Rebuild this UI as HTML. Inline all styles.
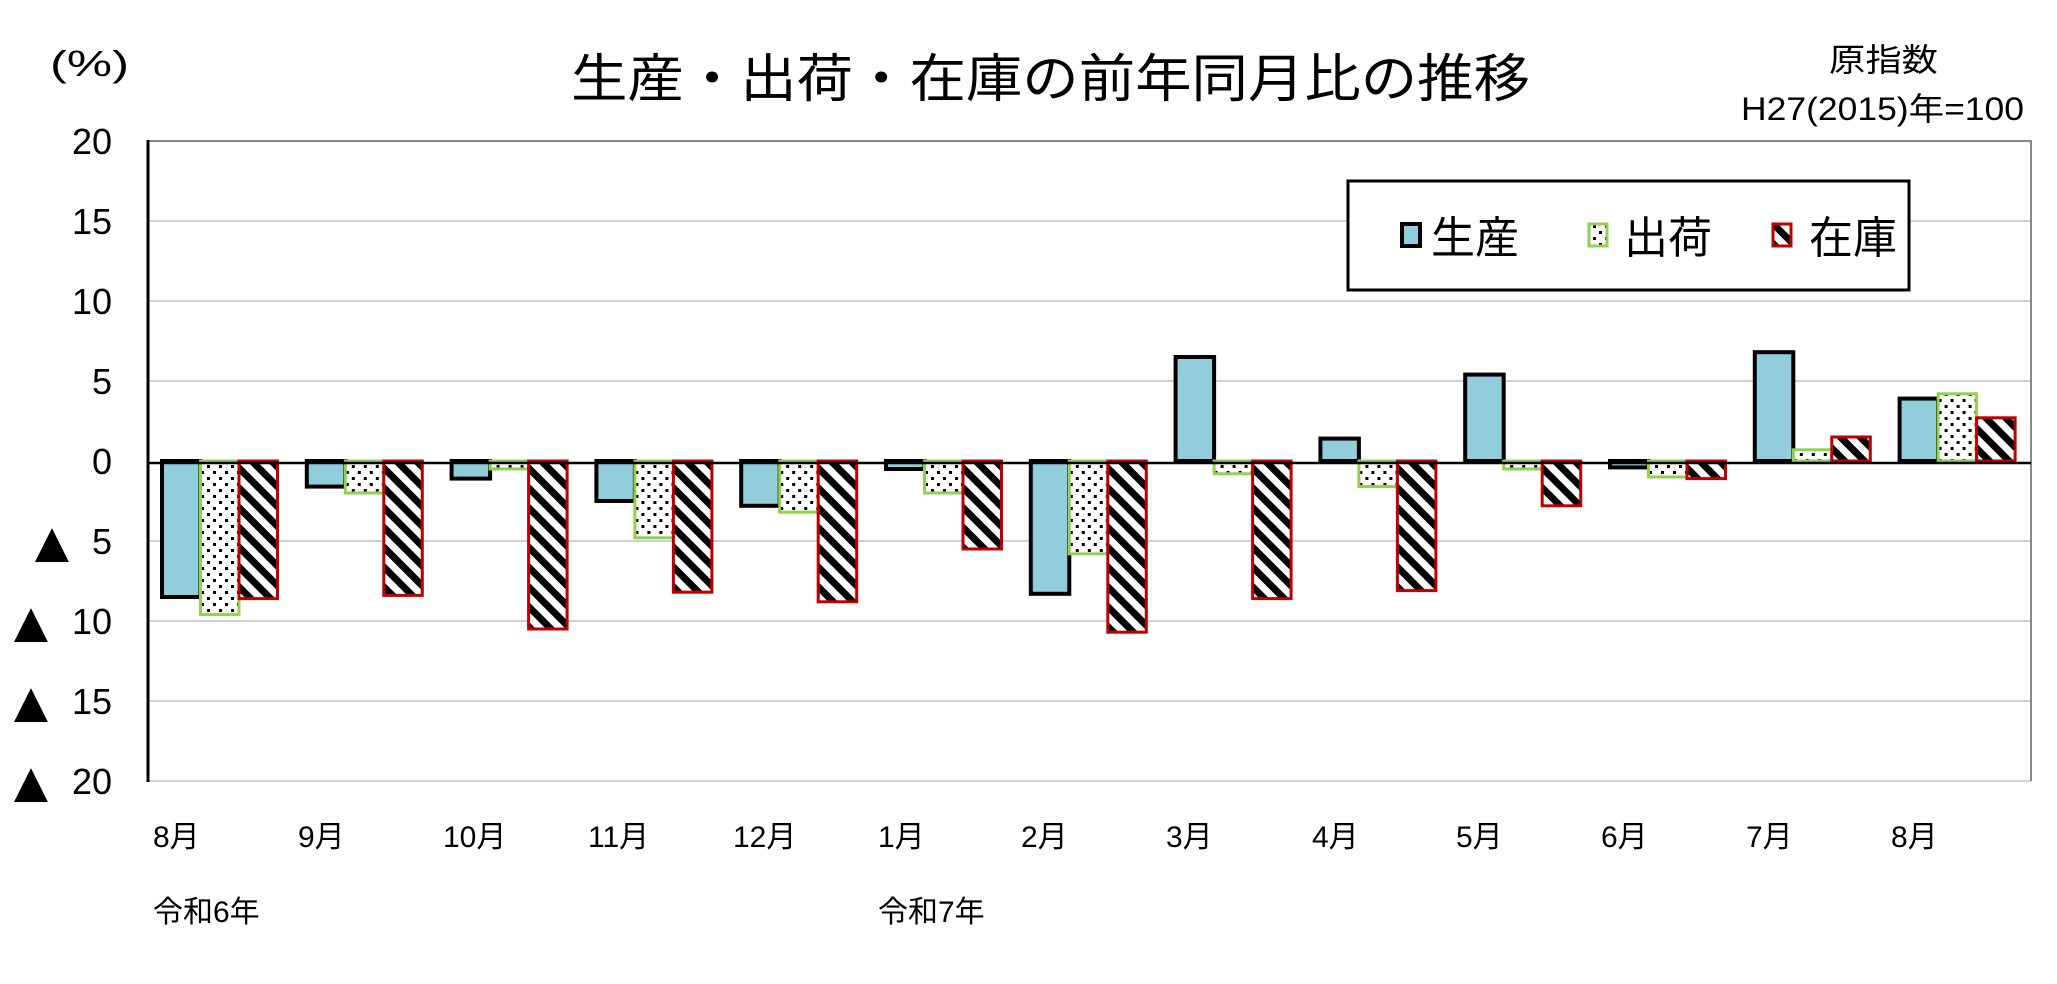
<!DOCTYPE html>
<html><head><meta charset="utf-8"><style>
html,body{margin:0;padding:0;background:#fff;}
svg{display:block;}
text{font-family:"Liberation Sans","Noto Sans CJK JP",sans-serif;fill:#000;}
</style></head><body>
<svg width="2057" height="984" viewBox="0 0 2057 984" xmlns="http://www.w3.org/2000/svg">
<defs>
<pattern id="dots" patternUnits="userSpaceOnUse" width="12" height="12">
<rect width="12" height="12" fill="#fff"/><rect x="3" y="3" width="3" height="3" fill="#000"/><rect x="9" y="9" width="3" height="3" fill="#000"/>
</pattern>
<pattern id="stripes" patternUnits="userSpaceOnUse" width="14" height="14" patternTransform="rotate(-45)">
<rect width="14" height="14" fill="#fff"/><rect width="7" height="14" fill="#000"/>
</pattern>
</defs>
<rect width="2057" height="984" fill="#fff"/>
<g stroke="#d0d0d0" stroke-width="2">
<line x1="149" y1="221" x2="2031" y2="221"/>
<line x1="149" y1="301" x2="2031" y2="301"/>
<line x1="149" y1="381" x2="2031" y2="381"/>
<line x1="149" y1="541" x2="2031" y2="541"/>
<line x1="149" y1="621" x2="2031" y2="621"/>
<line x1="149" y1="701" x2="2031" y2="701"/>
<line x1="149" y1="781" x2="2031" y2="781"/>
</g>
<line x1="148" y1="141" x2="2032" y2="141" stroke="#888" stroke-width="2"/>
<line x1="2031" y1="141" x2="2031" y2="781" stroke="#888" stroke-width="2"/>
<line x1="148" y1="140" x2="148" y2="782" stroke="#000" stroke-width="3"/>

<g id="bars">
<g transform="translate(162,0)">
<rect x="0" y="461" width="38.5" height="136" fill="#92CDDC" stroke="#000" stroke-width="4"/>
<rect x="38.5" y="461" width="38.5" height="153.6" fill="url(#dots)" stroke="#92D050" stroke-width="3"/>
<rect x="77" y="461" width="38.5" height="137.6" fill="url(#stripes)" stroke="#C00000" stroke-width="3"/>
</g>
<g transform="translate(306.8,0)">
<rect x="0" y="461" width="38.5" height="25.6" fill="#92CDDC" stroke="#000" stroke-width="4"/>
<rect x="38.5" y="461" width="38.5" height="32" fill="url(#dots)" stroke="#92D050" stroke-width="3"/>
<rect x="77" y="461" width="38.5" height="134.4" fill="url(#stripes)" stroke="#C00000" stroke-width="3"/>
</g>
<g transform="translate(451.6,0)">
<rect x="0" y="461" width="38.5" height="17.6" fill="#92CDDC" stroke="#000" stroke-width="4"/>
<rect x="38.5" y="461" width="38.5" height="8" fill="url(#dots)" stroke="#92D050" stroke-width="3"/>
<rect x="77" y="461" width="38.5" height="168" fill="url(#stripes)" stroke="#C00000" stroke-width="3"/>
</g>
<g transform="translate(596.4,0)">
<rect x="0" y="461" width="38.5" height="40" fill="#92CDDC" stroke="#000" stroke-width="4"/>
<rect x="38.5" y="461" width="38.5" height="76.8" fill="url(#dots)" stroke="#92D050" stroke-width="3"/>
<rect x="77" y="461" width="38.5" height="131.2" fill="url(#stripes)" stroke="#C00000" stroke-width="3"/>
</g>
<g transform="translate(741.2,0)">
<rect x="0" y="461" width="38.5" height="44.8" fill="#92CDDC" stroke="#000" stroke-width="4"/>
<rect x="38.5" y="461" width="38.5" height="51.2" fill="url(#dots)" stroke="#92D050" stroke-width="3"/>
<rect x="77" y="461" width="38.5" height="140.8" fill="url(#stripes)" stroke="#C00000" stroke-width="3"/>
</g>
<g transform="translate(886,0)">
<rect x="0" y="461" width="38.5" height="8" fill="#92CDDC" stroke="#000" stroke-width="4"/>
<rect x="38.5" y="461" width="38.5" height="32" fill="url(#dots)" stroke="#92D050" stroke-width="3"/>
<rect x="77" y="461" width="38.5" height="88" fill="url(#stripes)" stroke="#C00000" stroke-width="3"/>
</g>
<g transform="translate(1030.8,0)">
<rect x="0" y="461" width="38.5" height="132.8" fill="#92CDDC" stroke="#000" stroke-width="4"/>
<rect x="38.5" y="461" width="38.5" height="92.8" fill="url(#dots)" stroke="#92D050" stroke-width="3"/>
<rect x="77" y="461" width="38.5" height="171.2" fill="url(#stripes)" stroke="#C00000" stroke-width="3"/>
</g>
<g transform="translate(1175.6,0)">
<rect x="0" y="357" width="38.5" height="104" fill="#92CDDC" stroke="#000" stroke-width="4"/>
<rect x="38.5" y="461" width="38.5" height="12.8" fill="url(#dots)" stroke="#92D050" stroke-width="3"/>
<rect x="77" y="461" width="38.5" height="137.6" fill="url(#stripes)" stroke="#C00000" stroke-width="3"/>
</g>
<g transform="translate(1320.4,0)">
<rect x="0" y="438.6" width="38.5" height="22.4" fill="#92CDDC" stroke="#000" stroke-width="4"/>
<rect x="38.5" y="461" width="38.5" height="25.6" fill="url(#dots)" stroke="#92D050" stroke-width="3"/>
<rect x="77" y="461" width="38.5" height="129.6" fill="url(#stripes)" stroke="#C00000" stroke-width="3"/>
</g>
<g transform="translate(1465.2,0)">
<rect x="0" y="374.6" width="38.5" height="86.4" fill="#92CDDC" stroke="#000" stroke-width="4"/>
<rect x="38.5" y="461" width="38.5" height="8" fill="url(#dots)" stroke="#92D050" stroke-width="3"/>
<rect x="77" y="461" width="38.5" height="44.8" fill="url(#stripes)" stroke="#C00000" stroke-width="3"/>
</g>
<g transform="translate(1610,0)">
<rect x="0" y="461" width="38.5" height="6.4" fill="#92CDDC" stroke="#000" stroke-width="4"/>
<rect x="38.5" y="461" width="38.5" height="16" fill="url(#dots)" stroke="#92D050" stroke-width="3"/>
<rect x="77" y="461" width="38.5" height="17.6" fill="url(#stripes)" stroke="#C00000" stroke-width="3"/>
</g>
<g transform="translate(1754.8,0)">
<rect x="0" y="352.2" width="38.5" height="108.8" fill="#92CDDC" stroke="#000" stroke-width="4"/>
<rect x="38.5" y="449.8" width="38.5" height="11.2" fill="url(#dots)" stroke="#92D050" stroke-width="3"/>
<rect x="77" y="437" width="38.5" height="24" fill="url(#stripes)" stroke="#C00000" stroke-width="3"/>
</g>
<g transform="translate(1899.6,0)">
<rect x="0" y="398.6" width="38.5" height="62.4" fill="#92CDDC" stroke="#000" stroke-width="4"/>
<rect x="38.5" y="393.8" width="38.5" height="67.2" fill="url(#dots)" stroke="#92D050" stroke-width="3"/>
<rect x="77" y="417.8" width="38.5" height="43.2" fill="url(#stripes)" stroke="#C00000" stroke-width="3"/>
</g>
</g>
<line x1="148" y1="463" x2="2031" y2="463" stroke="#000" stroke-width="2.5"/>

<g font-size="36" text-anchor="end">
<text x="112" y="154">20</text>
<text x="112" y="234">15</text>
<text x="112" y="314">10</text>
<text x="112" y="394">5</text>
<text x="112" y="474">0</text>
<text x="112" y="554">5</text>
<text x="112" y="634">10</text>
<text x="112" y="714">15</text>
<text x="112" y="794">20</text>
</g>
<g font-size="58" text-anchor="middle" font-family="'DejaVu Sans',sans-serif">
<text x="52" y="562">▲</text>
<text x="31" y="642">▲</text>
<text x="31" y="722">▲</text>
<text x="31" y="802">▲</text>
</g>

<g font-size="30">
<text x="153" y="847">8月</text>
<text x="298" y="847">9月</text>
<text x="443" y="847">10月</text>
<text x="588" y="847">11月</text>
<text x="733" y="847">12月</text>
<text x="878" y="847">1月</text>
<text x="1021" y="847">2月</text>
<text x="1166" y="847">3月</text>
<text x="1312" y="847">4月</text>
<text x="1456" y="847">5月</text>
<text x="1601" y="847">6月</text>
<text x="1746" y="847">7月</text>
<text x="1891" y="847">8月</text>
<text x="153" y="922">令和6年</text>
<text x="878" y="922">令和7年</text>
</g>

<text x="571" y="97" font-size="52" textLength="959" lengthAdjust="spacingAndGlyphs">生産・出荷・在庫の前年同月比の推移</text>
<text x="50" y="76" font-size="36" textLength="79" lengthAdjust="spacingAndGlyphs">(%)</text>
<text x="1829" y="71" font-size="32" textLength="109" lengthAdjust="spacingAndGlyphs">原指数</text>
<text x="1741" y="120" font-size="32" textLength="283" lengthAdjust="spacingAndGlyphs">H27(2015)年=100</text>

<rect x="1348" y="181" width="561" height="109" fill="#fff" stroke="#000" stroke-width="3"/>
<rect x="1402" y="224" width="18" height="22" fill="#92CDDC" stroke="#000" stroke-width="4"/>
<text x="1431" y="253" font-size="44">生産</text>
<rect x="1589" y="224" width="18" height="22" fill="url(#dots)" stroke="#92D050" stroke-width="3"/>
<text x="1624" y="253" font-size="44">出荷</text>
<rect x="1773" y="224" width="18" height="22" fill="url(#stripes)" stroke="#C00000" stroke-width="3"/>
<text x="1809" y="253" font-size="44">在庫</text>
</svg>
</body></html>
